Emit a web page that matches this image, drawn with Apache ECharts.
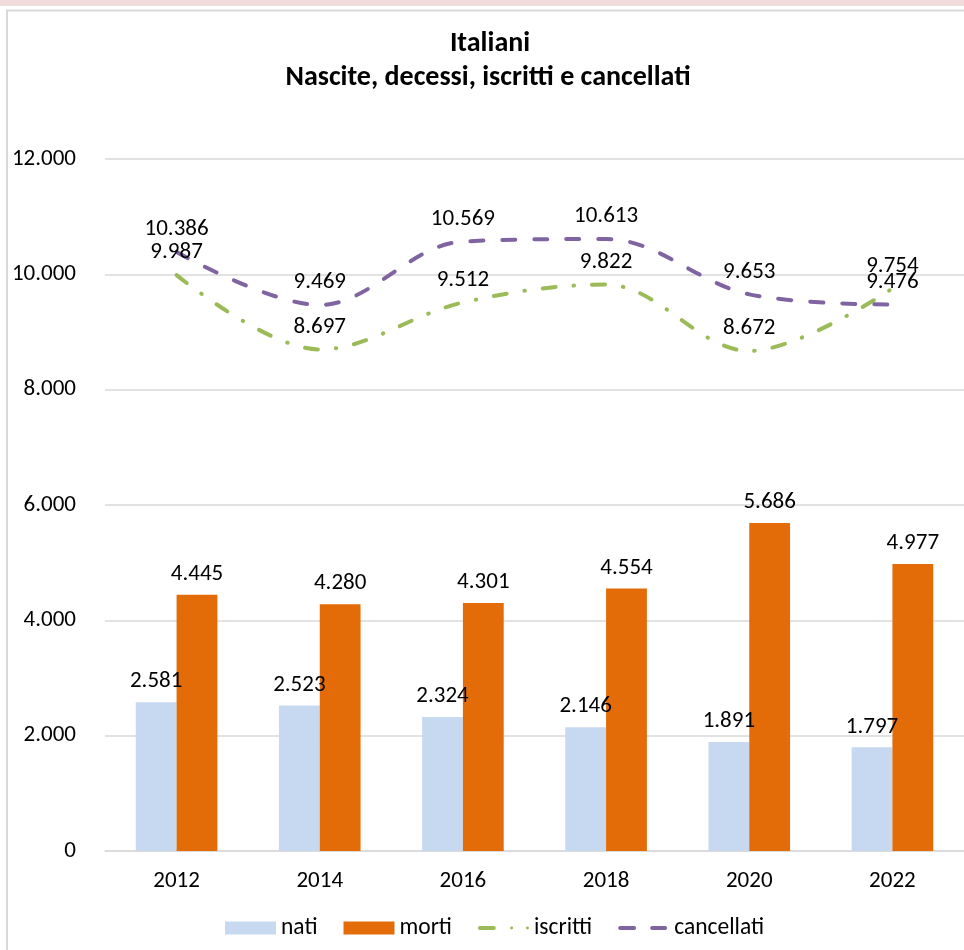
<!DOCTYPE html>
<html>
<head>
<meta charset="utf-8">
<script src="https://cdn.jsdelivr.net/npm/echarts@6/dist/echarts.min.js"></script>
<style>
  html, body { margin: 0; padding: 0; background: #fff; }
  #chart { width: 964px; height: 950px; }
</style>
</head>
<body>
<div id="chart"></div>
<script>
// Anni e serie
const years = ['2012', '2014', '2016', '2018', '2020', '2022'];
const nati = [2581, 2523, 2324, 2146, 1891, 1797];
const morti = [4445, 4280, 4301, 4554, 5686, 4977];
const iscritti = [9987, 8697, 9512, 9822, 8672, 9754];
const cancellati = [10386, 9469, 10569, 10613, 9653, 9476];
const yTicks = [0, 2000, 4000, 6000, 8000, 10000, 12000];

const FONT = 'Carlito, Lato, sans-serif';
const fmt = v => String(v).replace(/\B(?=(\d{3})+(?!\d))/g, '.');

// Icone legenda per le linee (riquadro 51x13, con punti estremi per fissare il box)
const BOX = 'M0 0L0 0M51 13L51 13';
const iconDash = 'path://' + BOX +
  'M2 4.5L16 4.5A2 2 0 0 1 16 8.5L2 8.5A2 2 0 0 1 2 4.5Z' +
  'M34 4.5L47 4.5A2 2 0 0 1 47 8.5L34 8.5A2 2 0 0 1 34 4.5Z';
const iconDashDot = 'path://' + BOX +
  'M2 4.5L16 4.5A2 2 0 0 1 16 8.5L2 8.5A2 2 0 0 1 2 4.5Z' +
  'M34 5A1.5 1.5 0 1 1 34 8A1.5 1.5 0 1 1 34 5Z' +
  'M50 5A1.5 1.5 0 1 1 50 8A1.5 1.5 0 1 1 50 5Z';

const chart = echarts.init(document.getElementById('chart'));
const lbl = (d) => ({
  show: true, position: 'top', distance: d,
  fontFamily: FONT, fontSize: 23, color: '#000',
  formatter: p => fmt(p.value)
});

chart.setOption({
  animation: false,
  textStyle: { fontFamily: FONT },
  graphic: [
    { type: 'rect', shape: { x: 0, y: 0, width: 964, height: 6 }, style: { fill: '#f2dcdb' } },
    { type: 'rect', shape: { x: 7, y: 10.5, width: 990, height: 960 },
      style: { fill: 'none', stroke: '#d9d9d9', lineWidth: 2 } },
    { type: 'text', x: 490, y: 44,
      style: { text: 'Italiani', font: 'bold 28px ' + FONT, fill: '#000', align: 'center', verticalAlign: 'middle' } },
    { type: 'text', x: 488, y: 78,
      style: { text: 'Nascite, decessi, iscritti e cancellati', font: 'bold 28px ' + FONT, fill: '#000', align: 'center', verticalAlign: 'middle' } }
  ],
  grid: { left: 105, top: 159, width: 868, height: 692, containLabel: false },
  legend: {
    top: 911, left: 220,
    itemWidth: 51, itemHeight: 13, itemGap: 26,
    textStyle: { fontFamily: FONT, fontSize: 23.5, color: '#000' },
    data: [
      { name: 'nati', icon: 'rect' },
      { name: 'morti', icon: 'rect' },
      { name: 'iscritti', icon: iconDashDot },
      { name: 'cancellati', icon: iconDash }
    ]
  },
  xAxis: {
    type: 'category', data: years,
    axisLine: { lineStyle: { color: '#d9d9d9', width: 1.5 } },
    axisTick: { show: false },
    axisLabel: { fontFamily: FONT, fontSize: 23, color: '#000', margin: 19 }
  },
  yAxis: {
    type: 'value', min: 0, max: 12000, interval: 2000,
    axisLine: { show: false }, axisTick: { show: false },
    splitLine: { lineStyle: { color: '#d9d9d9', width: 1.5 } },
    axisLabel: { fontFamily: FONT, fontSize: 23, color: '#000', margin: 29,
      formatter: v => yTicks.includes(v) ? fmt(v) : '' }
  },
  series: [
    { name: 'nati', type: 'bar', data: nati, barGap: '0%', barCategoryGap: '43%',
      itemStyle: { color: '#c6d9f0' }, label: lbl(9) },
    { name: 'morti', type: 'bar', data: morti,
      itemStyle: { color: '#e36c09' }, label: lbl(9) },
    { name: 'iscritti', type: 'line', data: iscritti, smooth: 0.35,
      symbol: 'circle', symbolSize: 0, showSymbol: true,
      itemStyle: { color: '#9bbb59' },
      lineStyle: { color: '#9bbb59', width: 4, type: [13, 18, 0.5, 18], cap: 'round' },
      label: lbl(11), z: 3 },
    { name: 'cancellati', type: 'line', data: cancellati, smooth: 0.35,
      symbol: 'circle', symbolSize: 0, showSymbol: true,
      itemStyle: { color: '#8064a2' },
      lineStyle: { color: '#8064a2', width: 4, type: [13, 19], cap: 'round' },
      label: lbl(11), z: 3 }
  ]
});
</script>
</body>
</html>
